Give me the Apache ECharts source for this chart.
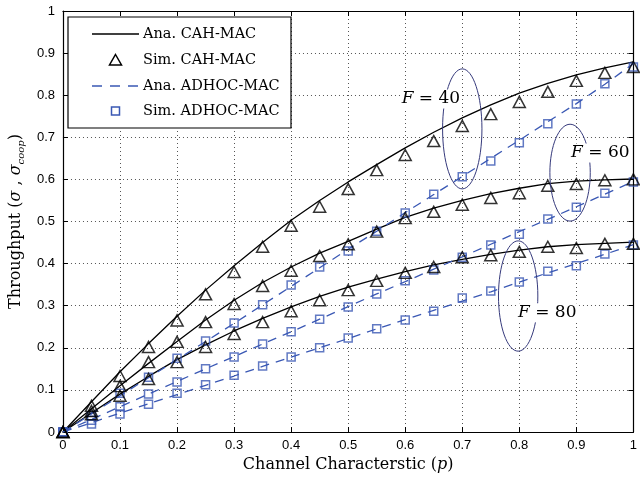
<!DOCTYPE html>
<html><head><meta charset="utf-8">
<script src="https://cdn.jsdelivr.net/npm/echarts@6/dist/echarts.min.js"></script>
<style>html,body{margin:0;padding:0;background:#fff}#c{width:640px;height:481px}</style>
</head><body><div id="c"></div>
<script>
// Channel characteristic p
const pValues = [0,0.05,0.1,0.15,0.2,0.25,0.3,0.35,0.4,0.45,0.5,0.55,0.6,0.65,0.7,0.75,0.8,0.85,0.9,0.95,1];
// CAH-MAC analytical / simulated (F = 40, 60, 80)
const anaCah40 = [0,0.072,0.143,0.21,0.275,0.337,0.395,0.45,0.503,0.55,0.594,0.635,0.675,0.712,0.746,0.777,0.805,0.828,0.848,0.865,0.879];
const anaCah60 = [0,0.055,0.11,0.163,0.215,0.266,0.313,0.355,0.392,0.425,0.453,0.482,0.51,0.532,0.55,0.566,0.579,0.59,0.596,0.599,0.601];
const anaCah80 = [0,0.045,0.09,0.132,0.172,0.207,0.24,0.27,0.297,0.322,0.344,0.363,0.381,0.397,0.41,0.422,0.432,0.44,0.445,0.448,0.451];
const simCah40 = [0,0.062,0.133,0.202,0.265,0.327,0.38,0.44,0.49,0.535,0.577,0.622,0.658,0.691,0.727,0.755,0.784,0.808,0.834,0.853,0.867];
const simCah60 = [0,0.05,0.109,0.166,0.214,0.261,0.304,0.347,0.383,0.418,0.446,0.476,0.508,0.523,0.54,0.556,0.567,0.585,0.589,0.598,0.6];
const simCah80 = [0,0.042,0.086,0.126,0.166,0.202,0.233,0.261,0.287,0.313,0.337,0.359,0.378,0.392,0.415,0.42,0.428,0.44,0.437,0.447,0.447];
// ADHOC-MAC analytical / simulated (F = 40, 60, 80)
const anaAd40 = [0,0.043,0.086,0.129,0.172,0.215,0.258,0.302,0.346,0.39,0.434,0.477,0.521,0.564,0.607,0.65,0.693,0.737,0.78,0.826,0.875];
const anaAd60 = [0,0.03,0.06,0.09,0.12,0.15,0.179,0.209,0.238,0.268,0.298,0.328,0.357,0.387,0.416,0.446,0.476,0.505,0.535,0.565,0.595];
const anaAd80 = [0,0.022,0.045,0.067,0.089,0.111,0.133,0.156,0.178,0.2,0.222,0.245,0.267,0.289,0.311,0.333,0.356,0.378,0.4,0.422,0.445];
const simAd40 = [0,0.038,0.092,0.13,0.175,0.216,0.259,0.302,0.349,0.392,0.43,0.477,0.52,0.565,0.606,0.644,0.687,0.732,0.779,0.827,0.867];
const simAd60 = [0,0.028,0.06,0.09,0.119,0.15,0.178,0.209,0.238,0.268,0.297,0.328,0.359,0.385,0.415,0.444,0.47,0.506,0.534,0.567,0.594];
const simAd80 = [0,0.019,0.043,0.066,0.092,0.112,0.135,0.157,0.178,0.2,0.223,0.245,0.266,0.287,0.318,0.335,0.356,0.382,0.395,0.423,0.444];
const legendNames = ['Ana. CAH-MAC','Sim. CAH-MAC','Ana. ADHOC-MAC','Sim. ADHOC-MAC'];
const groupLabels = ['40','60','80'];

const BLUE = '#3a58b4';
const SERIF = '"DejaVu Serif", "Liberation Serif", serif';
const SANS = '"Liberation Sans", Arial, sans-serif';

const pair = arr => arr.map((v, i) => [pValues[i], v]);

function anaCah(d){return {name:legendNames[0],type:'line',data:pair(d),symbol:'none',z:3,
  lineStyle:{color:'#000',width:1.3},itemStyle:{color:'#000'}};}
function anaAd(d){return {name:legendNames[2],type:'line',data:pair(d),symbol:'none',z:3,
  lineStyle:{color:BLUE,width:1.3,type:[9,7]},itemStyle:{color:BLUE}};}
function simCah(d){return {name:legendNames[1],type:'scatter',data:pair(d),symbol:'triangle',symbolSize:[12,11],z:5,
  itemStyle:{color:'rgba(255,255,255,0)',borderColor:'#000',borderWidth:1.5}};}
function simAd(d){return {name:legendNames[3],type:'scatter',data:pair(d),symbol:'rect',symbolSize:8,z:4,
  itemStyle:{color:'rgba(255,255,255,0)',borderColor:BLUE,borderWidth:1.5}};}

const chart = echarts.init(document.getElementById('c'), null, {renderer:'canvas'});
const axisCommon = {min:0,max:1,interval:0.1,
  axisLine:{show:true,onZero:false,lineStyle:{color:'#000',width:1.2}},
  axisTick:{show:true,inside:true,length:5,lineStyle:{color:'#000'}}};
chart.setOption({
  animation:false,
  backgroundColor:'#fff',
  grid:{left:60,right:1,top:11,bottom:49,containLabel:false},
  xAxis:[
    Object.assign({type:'value',position:'bottom',
      name:'{a|Channel Characterstic (}{i|p}{a|)}',nameLocation:'middle',nameGap:25,
      nameTextStyle:{rich:{
        a:{fontFamily:SERIF,fontSize:16,color:'#000'},
        i:{fontFamily:SERIF,fontSize:16,fontStyle:'italic',color:'#000'}}},
      axisLabel:{fontFamily:SANS,fontSize:13,color:'#000',margin:7,formatter:v=>String(+v.toFixed(1))},
      splitLine:{show:true,lineStyle:{color:'#555',type:[1,3],width:1}}},axisCommon),
    Object.assign({type:'value',position:'top',axisLabel:{show:false},splitLine:{show:false}},axisCommon)
  ],
  yAxis:[
    Object.assign({type:'value',position:'left',
      name:'{a|Throughput (}{i|σ}{a| , }{i|σ}{s|coop}{a|)}',nameLocation:'middle',nameGap:33,
      nameTextStyle:{rich:{
        a:{fontFamily:SERIF,fontSize:16,color:'#000',lineHeight:20,verticalAlign:'middle'},
        i:{fontFamily:SERIF,fontSize:16,fontStyle:'italic',color:'#000',lineHeight:20,verticalAlign:'middle'},
        s:{fontFamily:SERIF,fontSize:10,fontStyle:'italic',color:'#000',lineHeight:20,verticalAlign:'bottom'}}},
      axisLabel:{fontFamily:SANS,fontSize:13,color:'#000',margin:8,formatter:v=>String(+v.toFixed(1))},
      splitLine:{show:true,lineStyle:{color:'#555',type:[1,3],width:1}}},axisCommon),
    Object.assign({type:'value',position:'right',axisLabel:{show:false},splitLine:{show:false}},axisCommon)
  ],
  series:[
    anaCah(anaCah40),anaCah(anaCah60),anaCah(anaCah80),
    anaAd(anaAd40),anaAd(anaAd60),anaAd(anaAd80),
    simAd(simAd40),simAd(simAd60),simAd(simAd80),
    simCah(simCah40),simCah(simCah60),simCah(simCah80)
  ]
});

// Annotation ellipses grouping each F value, placed in data coordinates
const annEllipses = [
  {c:[0.7,0.72], r:[0.0345,0.1425]},
  {c:[0.889,0.616], r:[0.0354,0.115]},
  {c:[0.798,0.323], r:[0.0345,0.131]}
];
const annTexts = [[0.645,0.791],[0.942,0.663],[0.849,0.283]];
const gfx = [];
annEllipses.forEach(e => {
  const c = chart.convertToPixel({gridIndex:0}, e.c);
  const o = chart.convertToPixel({gridIndex:0}, [e.c[0]+e.r[0], e.c[1]+e.r[1]]);
  gfx.push({type:'ellipse',z:20,silent:true,shape:{cx:c[0],cy:c[1],rx:Math.abs(o[0]-c[0]),ry:Math.abs(o[1]-c[1])},
    style:{fill:null,stroke:'#363a7c',lineWidth:1}});
});
annTexts.forEach((t, i) => {
  const c = chart.convertToPixel({gridIndex:0}, t);
  gfx.push({type:'text',z:21,silent:true,x:c[0],y:c[1],
    style:{text:'{i|F} = ' + groupLabels[i],align:'center',verticalAlign:'middle',
      font:'17px ' + SERIF,fill:'#000',backgroundColor:'#fff',padding:[1,1],
      rich:{i:{fontStyle:'italic',fontSize:17,fontFamily:SERIF,fill:'#000'}}}});
});

// Legend box (drawn as graphic so that each key matches the reference sample)
const lg = {x:68, y:17, w:223, h:111, rowY:[34,60,86,111], x0:92, x1:139, tx:143};
gfx.push({type:'rect',z:30,silent:true,shape:{x:lg.x,y:lg.y,width:lg.w,height:lg.h},
  style:{fill:'#fff',stroke:'#000',lineWidth:1.2}});
const sx = (lg.x0 + lg.x1) / 2;
gfx.push({type:'line',z:31,silent:true,shape:{x1:lg.x0,y1:lg.rowY[0],x2:lg.x1,y2:lg.rowY[0]},style:{stroke:'#000',lineWidth:1.3}});
gfx.push({type:'polygon',z:31,silent:true,shape:{points:[[sx,lg.rowY[1]-5.5],[sx+6,lg.rowY[1]+5],[sx-6,lg.rowY[1]+5]]},
  style:{fill:null,stroke:'#000',lineWidth:1.5}});
gfx.push({type:'line',z:31,silent:true,shape:{x1:lg.x0,y1:lg.rowY[2],x2:lg.x1,y2:lg.rowY[2]},style:{stroke:BLUE,lineWidth:1.3,lineDash:[10,8]}});
gfx.push({type:'rect',z:31,silent:true,shape:{x:sx-4,y:lg.rowY[3]-4,width:8,height:8},style:{fill:null,stroke:BLUE,lineWidth:1.5}});
legendNames.forEach((n, i) => {
  gfx.push({type:'text',z:31,silent:true,x:lg.tx,y:lg.rowY[i],
    style:{text:n,font:'14.5px ' + SERIF,fill:'#000',align:'left',verticalAlign:'middle'}});
});
chart.setOption({graphic:gfx});
</script></body></html>
